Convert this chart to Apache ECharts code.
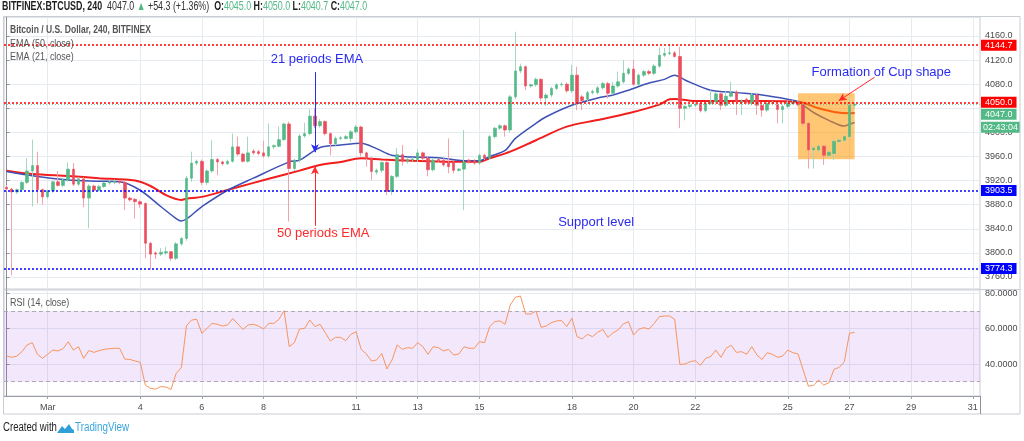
<!DOCTYPE html>
<html><head><meta charset="utf-8">
<script src="https://cdn.jsdelivr.net/npm/echarts@6/dist/echarts.min.js"></script>
<style>html,body{margin:0;padding:0;background:#fff}#c{width:1024px;height:441px}</style>
</head><body><div id="c"></div>
<script>
// ---- candle data (4h candles, slot 0 = Feb 27 16:00) ----
const opens = [
3909,3906,3901,3905,3917,3936,3945,3905,3893,3903,
3918,3912,3921,3939,3914,3923,3891,3911,3904,3910,
3916,3917,3919,3917,3891,3889,3885,3882,3816,3800,
3798,3800,3802,3791,3815,3824,3924,3949,3952,3917,
3936,3955,3951,3948,3952,3976,3964,3952,3969,3968,
3966,3961,3976,3977,3988,4014,3940,3954,3994,3998,
4027,4011,4018,3998,3981,3990,3990,3990,4001,4009,
3966,3957,3934,3937,3950,3902,3927,3963,3952,3955,
3955,3966,3957,3938,3955,3954,3950,3951,3937,3939,
3954,3953,3949,3962,3957,3993,4007,4011,4004,4059,
4102,4109,4077,4079,4088,4057,4062,4073,4079,4080,
4069,4095,4059,4055,4066,4066,4074,4081,4065,4077,
4084,4098,4105,4080,4095,4101,4098,4110,4128,4131,
4132,4126,4040,4043,4045,4048,4036,4048,4051,4064,
4045,4060,4067,4049,4055,4048,4062,4045,4037,4048,
4046,4038,4043,4048,4050,4046,4015,3971,3971,3977,
3962,3965,3985,3987,3993,4045];
const closes = [
3906,3901,3905,3917,3936,3945,3905,3893,3903,3918,
3912,3921,3939,3914,3923,3891,3911,3904,3910,3916,
3918,3919,3917,3891,3888,3885,3881,3816,3798,3798,
3801,3802,3791,3815,3824,3924,3949,3952,3917,3936,
3955,3951,3948,3952,3976,3964,3952,3966,3966,3965,
3961,3976,3978,3988,4014,3940,3954,3994,3998,4027,
4011,4018,3998,3981,3990,3991,3993,4001,4009,3966,
3957,3935,3937,3950,3902,3927,3963,3952,3955,3956,
3966,3957,3938,3954,3953,3946,3943,3937,3939,3951,
3951,3949,3962,3957,3993,4007,4011,4004,4059,4102,
4109,4077,4079,4088,4057,4062,4073,4079,4080,4069,
4095,4049,4053,4066,4068,4074,4081,4065,4077,4084,
4098,4105,4080,4095,4101,4098,4110,4128,4131,4132,
4126,4040,4043,4045,4047,4036,4048,4051,4064,4045,
4060,4066,4051,4052,4050,4062,4045,4037,4048,4049,
4038,4043,4049,4050,4046,4015,3971,3974,3977,3962,
3967,3985,3987,3993,4045,4047];
const lows = [
3903,3763,3898,3903,3914,3877,3882,3880,3890,3900,
3910,3909,3918,3911,3911,3876,3841,3902,3902,3908,
3913,3914,3914,3871,3885,3857,3875,3791,3772,3790,
3795,3796,3787,3788,3812,3820,3918,3945,3913,3913,
3933,3929,3945,3946,3950,3961,3950,3950,3963,3962,
3958,3958,3972,3975,3986,3852,3936,3950,3991,3995,
4007,4008,3995,3962,3978,3987,3988,3984,3998,3960,
3943,3921,3930,3933,3896,3896,3924,3945,3948,3952,
3951,3953,3927,3935,3950,3943,3932,3932,3935,3871,
3948,3946,3946,3954,3954,3990,4004,3993,4000,4055,
4098,4070,4074,4076,4052,4044,4058,4070,4076,4066,
4065,4037,4037,4052,4063,4063,4071,4056,4062,4074,
4081,4095,4077,4077,4092,4095,4095,4107,4125,4128,
4124,4007,4020,4040,4042,4033,4033,4046,4048,4037,
4042,4058,4029,4029,4047,4045,4029,4026,4034,4045,
4015,4015,4040,4046,4043,4010,3940,3940,3966,3946,
3958,3954,3982,3984,3990,4040.7];
const highs = [
3912,3908,3907,3919,3957,3988,3968,3907,3905,3920,
3936,3924,3950,3949,3926,3926,3914,3913,3913,3918,
3921,3922,3921,3920,3893,3891,3887,3884,3818,3802,
3808,3810,3803,3818,3826,3928,3968,3955,3955,3939,
3987,3958,3953,3955,3998,3993,3966,3993,3972,3971,
3986,4015,3980,4010,4016,4018,3956,3997,4016,4038,
4040,4022,4020,4000,3993,3994,3996,4004,4012,4011,
3968,3960,3940,3952,3953,3929,3974,3979,3958,3959,
3972,3968,3960,3957,3957,3957,3990,3953,3941,4004,
3956,3956,3965,3965,3996,4009,4014,4013,4062,4167,
4114,4111,4081,4091,4090,4065,4076,4082,4083,4083,
4112,4109,4062,4069,4071,4077,4084,4084,4084,4101,
4120,4108,4120,4098,4104,4104,4113,4141,4140,4147,
4135,4142,4046,4048,4050,4050,4050,4070,4067,4066,
4068,4084,4070,4055,4058,4065,4064,4047,4050,4052,
4048,4046,4052,4053,4052,4048,4017,3977,3980,3979,
3970,3988,3990,3996,4059,4050];

// ---- EMA values (slot, value) ----
const ema21Slots = [0,5,12,18,22,26,30,33,34,38,43,48,55,57,61,65,69,72,75,79,84,89,92,94,97,99,103,105,110,115,118,121,125,128,130,132,137,142,147,152,154,157,160,163,164,165];
const ema21Vals  = [3935,3928,3921,3919,3918,3904,3877,3857,3853,3877,3904,3924,3951,3954,3975,3979,3982,3973,3962,3959,3958,3953,3953,3960,3970,3990,4015,4026,4045,4057,4062,4070,4082,4088,4095,4087,4070,4066,4062,4055,4051,4033,4020,4010.5,4013.5,4016.5];
const ema50Slots = [0,5,12,18,25,28,31,34,35,38,44,51,57,61,65,69,73,79,86,92,94,98,103,109,115,121,127,129,130,133,137,147,154,158,161,164,165];
const ema50Vals  = [3936.5,3931,3927.6,3924,3920,3911,3896,3888,3890,3893,3907,3923,3936.5,3946,3951,3957,3955,3953,3951.4,3951.4,3957,3968,3987,4009.5,4020.6,4031.7,4046,4055,4055.5,4052.7,4052,4052,4051,4040,4034,4031.7,4032];

// ---- RSI (14, close), one per candle ----
const rsi = [
44.5,43.8,44.5,47,50.8,52.1,45.5,43.2,45.5,47.9,
47.4,48.7,52.6,47.9,49.8,43.2,47.6,46.6,47.6,48.3,
48.7,48.9,48.9,42.8,42.6,41.7,41,28.1,26.2,25.8,
27.2,27,25.6,34.7,37.9,61.7,64.9,65.3,57.4,60.2,
63,62.5,61.5,62.1,65.7,62.7,59.6,62.1,62.5,61.5,
59.8,63,63,65.3,70.2,49.8,52.1,59.8,60.2,64.9,
61.2,62.5,57.8,53,55.1,55.1,53.2,56.8,58.3,48.3,
45.7,41.7,42.3,46,37.2,42.3,50.8,48.3,49.3,48.9,
52.1,49.8,45.5,49.8,49.3,47.4,48.3,45.1,45.7,49.8,
48.9,48.9,52.6,52.1,61.2,64,64.4,62.5,73.4,77.8,
78.5,68.3,68.3,70,60.8,61.5,63.4,64.4,64.6,61.2,
65.9,55.5,54.2,56.8,55.5,57.9,59.6,55.1,57.7,59.3,
62.7,64,56.4,59.6,60.6,59.8,63,66.8,67.2,67.2,
65.3,39.8,40,41.3,41.9,39.2,43.2,44.2,47.9,43.8,
48.9,50.6,46.6,47,45.5,49.8,45.1,42.6,46.4,45.5,
43.8,44.5,47.9,46.4,45.7,36.6,27.5,27.9,30.9,28.1,
29.4,37,38.1,41.3,57.4,57.9];

// ---- axes ----
const priceTicks = [3760,3800,3840,3880,3920,3960,4000,4040,4080,4120,4160];
const priceLabelTicks = [3760,3800,3840,3880,3920,3960,4000,4080,4120,4160];
const rsiTicks = [40,60,80];
const tickDays = [1,4,6,8,11,13,15,18,20,22,25,27,29,31];
const tickLabels = ['Mar','4','6','8','11','13','15','18','20','22','25','27','29','31'];
const slotsPerDay = 6, firstDaySlot = 8;
const tickSlots = tickDays.map(d => firstDaySlot + (d - 1) * slotsPerDay);

// ---- levels & header ----
const resistanceLevels = [4144.7, 4050.0];
const supportLevels = [3903.5, 3774.3];
const lastPrice = 4047.0, countdown = '02:43:04';
const header = {sym:'BITFINEX:BTCUSD, 240', last:'4047.0', chg:'+54.3 (+1.36%)', o:'4045.0', h:'4050.0', l:'4040.7', c:'4047.0'};

const FONT = "'Liberation Sans',Arial,sans-serif";
const UP = '#53b987', DOWN = '#eb4d5c';
const GRID = '#e6ebf2';
const CLEAR = 'rgba(0,0,0,0)';

const wickData = opens.map((o, i) => [i, o, closes[i], lows[i], highs[i]]);
const bodyData = opens.map((o, i) => [i, o, closes[i], Math.min(o, closes[i]), Math.max(o, closes[i])]);
const ema21Data = ema21Slots.map((s, i) => [s, ema21Vals[i]]);
const ema50Data = ema50Slots.map((s, i) => [s, ema50Vals[i]]);
const rsiData = rsi.map((v, i) => [i, v]);

const X_MIN = -0.5, X_MAX = 189.4;

function tagLabel(text, bg, padX) {
  return {show: true, position: 'end', distance: 1, formatter: text, color: '#fff',
    backgroundColor: bg, padding: [1, padX, 0, padX], fontSize: 9, lineHeight: 10, fontFamily: FONT};
}
function levelLine(v, color) {
  return {yAxis: v, lineStyle: {color: color, type: [2, 2], width: 1.5}, label: tagLabel(v.toFixed(1), color, 4)};
}
function arrow(p1, p2, color) {
  return [{coord: p1, symbol: 'none', lineStyle: {color: color, width: 1, type: 'solid'}, label: {show: false}},
          {coord: p2, symbol: 'arrow', symbolSize: [6, 8]}];
}
function note(text, coord, color) {
  return {name: text, coord: coord, label: {color: color}};
}

const chart = echarts.init(document.getElementById('c'), null, {renderer: 'canvas'});
chart.setOption({
  animation: false,
  backgroundColor: '#fff',
  grid: [
    {left: 4, top: 17, width: 976, height: 272, show: true, borderColor: '#c8ccd3', borderWidth: 1},
    {left: 4, top: 290, width: 976, height: 106, show: true, borderColor: '#c8ccd3', borderWidth: 1}
  ],
  xAxis: [
    {type: 'value', gridIndex: 0, min: X_MIN, max: X_MAX,
     axisLabel: {show: false}, axisLine: {show: false},
     axisTick: {show: false, customValues: tickSlots},
     splitLine: {show: true, lineStyle: {color: GRID, width: 1}}},
    {type: 'value', gridIndex: 1, min: X_MIN, max: X_MAX,
     axisLine: {show: true, lineStyle: {color: '#9a9da5'}},
     axisTick: {show: true, customValues: tickSlots, length: 3, lineStyle: {color: '#9a9da5'}},
     axisLabel: {customValues: tickSlots, formatter: v => tickLabels[tickSlots.indexOf(Math.round(v))] || '',
       color: '#4a4a4a', fontSize: 9, fontFamily: FONT, margin: 7},
     splitLine: {show: true, lineStyle: {color: GRID, width: 1}}}
  ],
  yAxis: [
    {type: 'value', gridIndex: 0, position: 'right', min: 3740.1, max: 4191.5, scale: true,
     axisLine: {show: true, lineStyle: {color: '#8d9099'}},
     axisTick: {show: true, customValues: priceTicks, length: 3, lineStyle: {color: '#8d9099'}},
     axisLabel: {customValues: priceLabelTicks, formatter: v => v.toFixed(1), color: '#4a4a4a',
       fontSize: 9, fontFamily: FONT, margin: 5},
     splitLine: {show: true, lineStyle: {color: GRID, width: 1}}},
    {type: 'value', gridIndex: 1, position: 'right', min: 21.9, max: 81.9, scale: true,
     axisLine: {show: true, lineStyle: {color: '#8d9099'}},
     axisTick: {show: true, customValues: rsiTicks, length: 3, lineStyle: {color: '#8d9099'}},
     axisLabel: {customValues: rsiTicks, formatter: v => v.toFixed(4), color: '#4a4a4a',
       fontSize: 9, fontFamily: FONT, margin: 5},
     splitLine: {show: true, lineStyle: {color: GRID, width: 1}}}
  ],
  series: [
    {name: 'EMA50', type: 'line', xAxisIndex: 0, yAxisIndex: 0, data: ema50Data, smooth: 0.3,
     showSymbol: false, z: 2, lineStyle: {color: '#f21d1d', width: 2}},
    {name: 'EMA21', type: 'line', xAxisIndex: 0, yAxisIndex: 0, data: ema21Data, smooth: 0.3,
     showSymbol: false, z: 2, lineStyle: {color: '#3f51b5', width: 1.5},
     markArea: {z: 3, silent: true, itemStyle: {color: 'rgba(255,152,0,0.55)'},
       data: [[{coord: [154, 3955.4]}, {coord: [165, 4064.9]}]]}},
    {name: 'wicks', type: 'candlestick', xAxisIndex: 0, yAxisIndex: 0, data: wickData,
     encode: {x: 0, y: [1, 2, 3, 4]}, barWidth: 1, z: 4, clip: false,
     itemStyle: {color: '#a3d9bf', color0: '#f3a3ab', borderColor: '#a3d9bf', borderColor0: '#f3a3ab', borderWidth: 1}},
    {name: 'bodies', type: 'candlestick', xAxisIndex: 0, yAxisIndex: 0, data: bodyData,
     encode: {x: 0, y: [1, 2, 3, 4]}, barWidth: 3, z: 5, clip: false,
     itemStyle: {color: UP, color0: DOWN, borderColor: UP, borderColor0: DOWN, borderWidth: 0.6},
     markLine: {z: 6, silent: true, symbol: ['none', 'none'],
       data: [
         levelLine(resistanceLevels[0], '#ff0000'),
         levelLine(resistanceLevels[1], '#ff0000'),
         levelLine(supportLevels[0], '#0000ff'),
         levelLine(supportLevels[1], '#0000ff'),
         {yAxis: lastPrice, lineStyle: {color: 'rgba(83,185,135,0.7)', type: [1, 2], width: 1}, label: {show: false}},
         {yAxis: 4030.3, lineStyle: {color: CLEAR, width: 0}, label: tagLabel(lastPrice.toFixed(1), UP, 4)},
         {yAxis: 4008.7, lineStyle: {color: CLEAR, width: 0}, label: tagLabel(countdown, UP, 2)},
         arrow([60, 4100], [60, 3967], '#2b2bf0'),
         arrow([60, 3845], [60, 3944], '#ff2a2a'),
         arrow([168.9, 4091.7], [161.9, 4052.4], '#ff2a2a')
       ]},
     markPoint: {z: 7, silent: true, symbol: 'circle', symbolSize: 0,
       label: {show: true, position: 'inside', formatter: '{b}', fontSize: 13, fontFamily: FONT},
       data: [
         note('21 periods EMA', [60.4, 4121.5], '#2b2bf0'),
         note('50 periods EMA', [61.6, 3833], '#ff2a2a'),
         note('Support level', [114.7, 3851], '#2b2bf0'),
         note('Formation of Cup shape', [170.2, 4100], '#2b2bf0')
       ]}},
    {name: 'RSI', type: 'line', xAxisIndex: 1, yAxisIndex: 1, data: rsiData, showSymbol: false, z: 3,
     lineStyle: {color: '#f7955e', width: 1},
     markArea: {z: 1, silent: true, itemStyle: {color: 'rgba(150,40,230,0.11)'},
       data: [[{yAxis: 30}, {yAxis: 70}]]},
     markLine: {z: 2, silent: true, symbol: ['none', 'none'], label: {show: false},
       lineStyle: {color: '#b0a8bb', type: [4, 3], width: 1},
       data: [{yAxis: 70}, {yAxis: 30}]}}
  ],
  graphic: [
    {type: 'rect', shape: {x: 3.5, y: 16.5, width: 1016.5, height: 397.5}, style: {fill: null, stroke: '#c8ccd3', lineWidth: 1}, silent: true, z: 10},
    {type: 'line', shape: {x1: 980.5, y1: 396, x2: 980.5, y2: 414}, style: {stroke: '#8d9099', lineWidth: 1}, silent: true, z: 10},
    {type: 'line', shape: {x1: 980, y1: 289.5, x2: 1020, y2: 289.5}, style: {stroke: '#c8ccd3', lineWidth: 1}, silent: true, z: 10},
    {type: 'text', x: 2, y: 1, scaleX: 0.74, silent: true, z: 10,
     style: {text: '{b|' + header.sym + '}  {n|' + header.last + '} {g|\u25B2} {n|' + header.chg + '}  {b|O:}{g|' + header.o + '} {b|H:}{g|' + header.h + '} {b|L:}{g|' + header.l + '} {b|C:}{g|' + header.c + '}',
       rich: {
         b: {fontFamily: FONT, fontSize: 12, fontWeight: 'bold', fill: '#1e1e1e'},
         n: {fontFamily: FONT, fontSize: 12, fill: '#333'},
         g: {fontFamily: FONT, fontSize: 12, fill: UP}
       }}},
    {type: 'text', x: 10, y: 24, scaleX: 0.74, silent: true, z: 10,
     style: {text: 'Bitcoin / U.S. Dollar, 240, BITFINEX', fontFamily: FONT, fontSize: 11.5, fontWeight: 'bold', fill: '#555'}},
    {type: 'text', x: 10, y: 38, scaleX: 0.78, silent: true, z: 10,
     style: {text: 'EMA (50, close)', fontFamily: FONT, fontSize: 11.5, fill: '#555'}},
    {type: 'text', x: 10, y: 51, scaleX: 0.78, silent: true, z: 10,
     style: {text: 'EMA (21, close)', fontFamily: FONT, fontSize: 11.5, fill: '#555'}},
    {type: 'text', x: 10, y: 297, scaleX: 0.78, silent: true, z: 10,
     style: {text: 'RSI (14, close)', fontFamily: FONT, fontSize: 11.5, fill: '#555'}},
    {type: 'text', x: 3, y: 422, scaleX: 0.8, silent: true, z: 10,
     style: {text: 'Created with', fontFamily: FONT, fontSize: 12, fill: '#222'}},
    {type: 'polygon', silent: true, z: 10,
     shape: {points: [[57, 433], [62, 426], [65, 429], [69, 424], [72, 429], [74, 430], [74, 433]]}, style: {fill: '#2f9fd8'}},
    {type: 'text', x: 75, y: 422, scaleX: 0.82, silent: true, z: 10,
     style: {text: 'TradingView', fontFamily: FONT, fontSize: 12, fill: '#3aa6dd'}}
  ]
});
</script></body></html>
